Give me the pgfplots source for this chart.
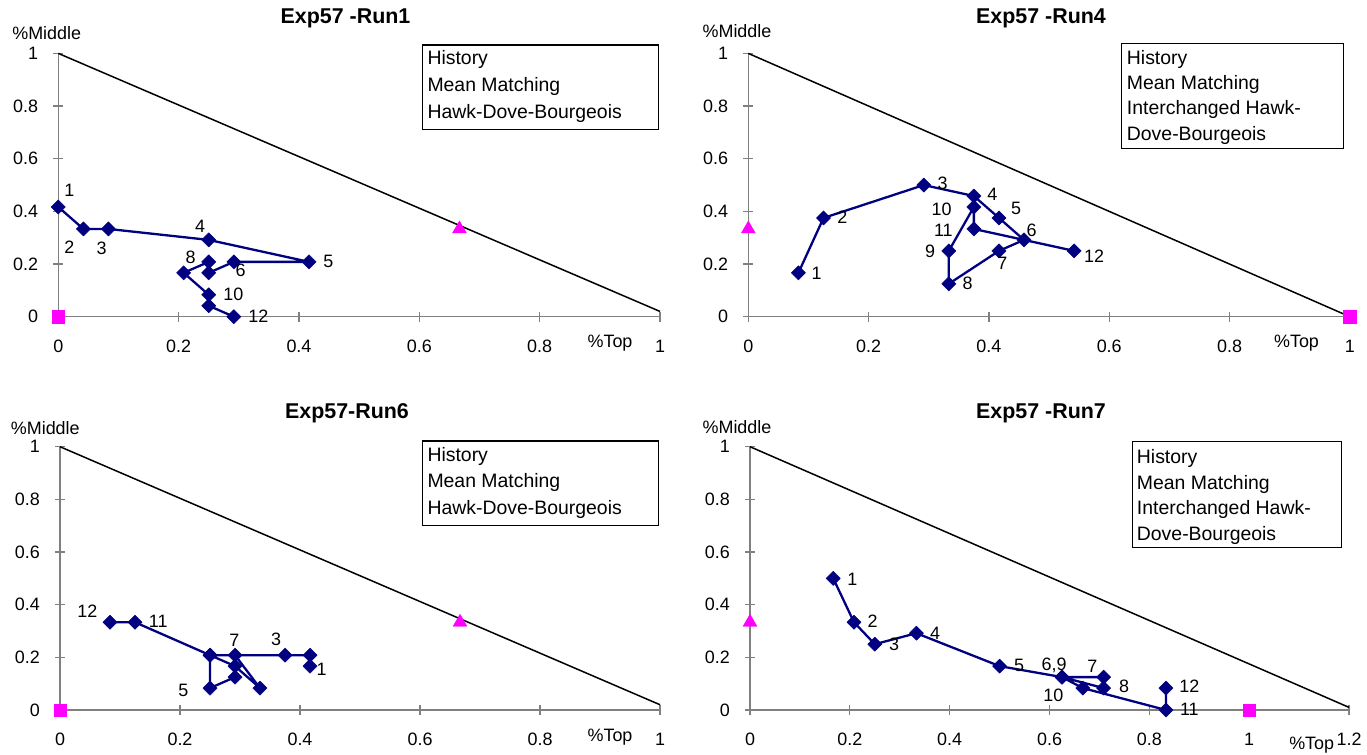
\documentclass[border=0pt]{standalone}
\usepackage{fontspec}
\setmainfont{Liberation Sans}
\usepackage{pgfplots}
\pgfplotsset{compat=1.18}
\definecolor{navy}{HTML}{000080}
\definecolor{mag}{HTML}{FF00FF}
\definecolor{axgray}{HTML}{808080}
\newcommand{\lf}{\fontsize{18}{20}\selectfont}
\newcommand{\gf}{\fontsize{19.5}{22}\selectfont}
\newcommand{\tf}{\bfseries\fontsize{21.5}{24}\selectfont}
\pgfplotsset{
 tern/.style={
  scale only axis, anchor=south west,
  axis lines=left, axis line style={-, draw=axgray, line width=1.4bp},
  ymin=0, ymax=1, xmin=0,
  ytick={0,0.2,0.4,0.6,0.8,1},
  tick align=center, major tick length=10bp,
  every tick/.style={axgray, line width=1.2bp},
  tick label style={font=\lf, inner sep=0pt},
  xticklabel style={anchor=base, yshift=-30.5bp},
  yticklabel style={anchor=east, xshift=-15bp},
  /pgf/number format/assume math mode=true,
  clip=false, enlargelimits=false,
  height=263.3bp,
 },
 traj/.style={draw=navy, line width=2.3bp, line join=round, line cap=round, mark=square*, mark size=5bp, mark options={rotate=45, solid, fill=navy, draw=navy, line width=0.5bp}},
 diag/.style={black, line width=1.5bp, no markers},
 msq/.style={only marks, mark=square*, mark size=6.2bp, mark options={fill=mag, draw=mag}},
 mtri/.style={only marks, mark=triangle*, mark size=8bp, mark options={fill=mag, draw=mag}},
}
\begin{document}
\begin{tikzpicture}[x=1bp, y=-1bp]
\path[use as bounding box] (0,0) rectangle (1367,754);

% ---------- Panel 1 ----------
\begin{axis}[tern, at={(58.3bp,-316.7bp)}, width=601.7bp, xmax=1,
  xtick={0,0.2,0.4,0.6,0.8,1}]
\addplot[diag] coordinates {(0,1) (1,0.02)};
\addplot[traj] coordinates {
 (0,0.4167) (0.0417,0.3333) (0.0833,0.3333) (0.25,0.2917) (0.4167,0.2083)
 (0.2917,0.2083) (0.25,0.1667) (0.25,0.2083) (0.2083,0.1667) (0.25,0.0833)
 (0.25,0.0417) (0.2917,0)};
\addplot[msq] coordinates {(0,0)};
\addplot[mtri] coordinates {(0.6667,0.3333)};
\end{axis}

% ---------- Panel 2 ----------
\begin{axis}[tern, at={(748.3bp,-316.7bp)}, width=601.5bp, xmax=1,
  xtick={0,0.2,0.4,0.6,0.8,1}]
\addplot[diag] coordinates {(0,1) (1,0)};
\addplot[traj] coordinates {
 (0.0833,0.1667) (0.125,0.375) (0.2917,0.5) (0.375,0.4583) (0.4167,0.375)
 (0.4583,0.2917) (0.4167,0.25) (0.3333,0.125) (0.3333,0.25) (0.375,0.4167)
 (0.375,0.3333) (0.5417,0.25)};
\addplot[mtri] coordinates {(0,0.3333)};
\addplot[msq] coordinates {(1,0)};
\end{axis}

% ---------- Panel 3 ----------
\begin{axis}[tern, at={(60bp,-710bp)}, width=600bp, xmax=1,
  xtick={0,0.2,0.4,0.6,0.8,1}]
\addplot[diag] coordinates {(0,1) (1,0.02)};
\addplot[traj] coordinates {
 (0.4167,0.1667) (0.4167,0.2083) (0.375,0.2083) (0.25,0.2083) (0.25,0.0833)
 (0.2917,0.125) (0.2917,0.2083) (0.3333,0.0833) (0.2917,0.1667) (0.25,0.2083)
 (0.125,0.3333) (0.0833,0.3333)};
\addplot[msq] coordinates {(0,0)};
\addplot[mtri] coordinates {(0.6667,0.3333)};
\end{axis}

% ---------- Panel 4 ----------
\begin{axis}[tern, at={(750bp,-710bp)}, width=599bp, xmax=1.2,
  xtick={0,0.2,0.4,0.6,0.8,1,1.2}]
\addplot[diag] coordinates {(0,1) (1.2,0.01)};
\addplot[traj] coordinates {
 (0.1667,0.5) (0.2083,0.3333) (0.25,0.25) (0.3333,0.2917) (0.5,0.1667)
 (0.625,0.125) (0.7083,0.125) (0.7083,0.0833) (0.625,0.125) (0.6667,0.0833)
 (0.8333,0) (0.8333,0.0833)};
\addplot[mtri] coordinates {(0,0.3333)};
\addplot[msq] coordinates {(1,0)};
\end{axis}

% ---------- Titles ----------
\node[font=\tf, anchor=base] at (345.5,23.3) {Exp57 -Run1};
\node[font=\tf, anchor=base] at (1041,23.3) {Exp57 -Run4};
\node[font=\tf, anchor=base] at (347,418) {Exp57-Run6};
\node[font=\tf, anchor=base] at (1041,418) {Exp57 -Run7};

% ---------- axis names ----------
\node[font=\lf, anchor=base] at (46.7,40) {\%Middle};
\node[font=\lf, anchor=base] at (737,38) {\%Middle};
\node[font=\lf, anchor=base] at (45.3,434.3) {\%Middle};
\node[font=\lf, anchor=base] at (737,433) {\%Middle};
\node[font=\lf, anchor=base] at (610,347) {\%Top};
\node[font=\lf, anchor=base] at (1296.5,347.5) {\%Top};
\node[font=\lf, anchor=base] at (610,741) {\%Top};
\node[font=\lf, anchor=base] at (1311.7,749.3) {\%Top};

% ---------- info boxes ----------
\draw[line width=1.3bp] (422.7,45) rectangle (658.3,129.3);
\node[font=\gf, anchor=base west, inner sep=0pt] at (427.3,65) {History};
\node[font=\gf, anchor=base west, inner sep=0pt] at (427.3,91.5) {Mean Matching};
\node[font=\gf, anchor=base west, inner sep=0pt] at (427.3,118) {Hawk-Dove-Bourgeois};

\draw[line width=1.3bp] (1121.7,43.3) rectangle (1343.3,148.3);
\node[font=\gf, anchor=base west, inner sep=0pt] at (1126.7,64.3) {History};
\node[font=\gf, anchor=base west, inner sep=0pt] at (1126.7,89.5) {Mean Matching};
\node[font=\gf, anchor=base west, inner sep=0pt] at (1126.7,114.7) {Interchanged Hawk-};
\node[font=\gf, anchor=base west, inner sep=0pt] at (1126.7,140) {Dove-Bourgeois};

\draw[line width=1.3bp] (422.7,441) rectangle (658.3,525.3);
\node[font=\gf, anchor=base west, inner sep=0pt] at (427.3,461) {History};
\node[font=\gf, anchor=base west, inner sep=0pt] at (427.3,487.5) {Mean Matching};
\node[font=\gf, anchor=base west, inner sep=0pt] at (427.3,514) {Hawk-Dove-Bourgeois};

\draw[line width=1.3bp] (1132.3,441.7) rectangle (1341.7,547.3);
\node[font=\gf, anchor=base west, inner sep=0pt] at (1136.7,463.3) {History};
\node[font=\gf, anchor=base west, inner sep=0pt] at (1136.7,489) {Mean Matching};
\node[font=\gf, anchor=base west, inner sep=0pt] at (1136.7,514.7) {Interchanged Hawk-};
\node[font=\gf, anchor=base west, inner sep=0pt] at (1136.7,540.3) {Dove-Bourgeois};

% ---------- point labels ----------
\begin{scope}[every node/.style={font=\lf, inner sep=0pt}]
% panel 1
\node at (69.3,190) {1};
\node at (69.3,247.3) {2};
\node at (101.7,248.3) {3};
\node at (200,226) {4};
\node at (328.3,261) {5};
\node at (240.7,270.7) {6};
\node at (190.7,257.3) {8};
\node at (233.3,294) {10};
\node at (258.3,316.7) {12};
% panel 2
\node at (816.7,273.3) {1};
\node at (842.3,217.7) {2};
\node at (942.7,183.3) {3};
\node at (992.3,194.3) {4};
\node at (1016,208.3) {5};
\node at (1031.7,230) {6};
\node at (1002.3,263.3) {7};
\node at (967.7,283.3) {8};
\node at (930,251.7) {9};
\node at (941.7,209.3) {10};
\node at (943.3,230) {11};
\node at (1094,256) {12};
% panel 3
\node at (87.3,611.7) {12};
\node at (158.3,621.7) {11};
\node at (234.3,640) {7};
\node at (276,639.3) {3};
\node at (321.7,669) {1};
\node at (183.3,690) {5};
% panel 4
\node at (852.3,579) {1};
\node at (872.7,621.7) {2};
\node at (894,644) {3};
\node at (935,633.3) {4};
\node at (1019,665) {5};
\node at (1054,665) {6,9};
\node at (1092.3,666) {7};
\node at (1124,686) {8};
\node at (1053.3,695) {10};
\node at (1189.3,686.7) {12};
\node at (1189.3,709) {11};
\end{scope}
\end{tikzpicture}
\end{document}
